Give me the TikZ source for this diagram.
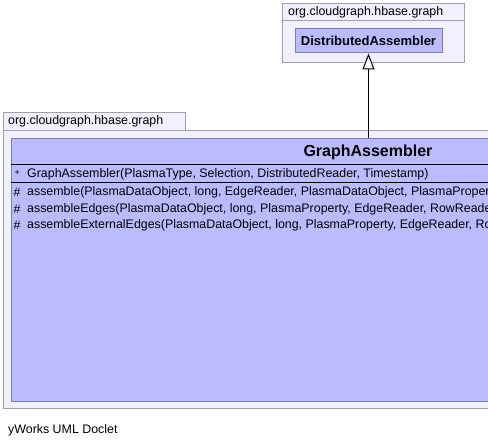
\documentclass[tikz,border=0pt]{standalone}
\usepackage{fontspec}
\setmainfont{Liberation Sans}
\usetikzlibrary{arrows.meta, positioning}
\definecolor{pkgfill}{RGB}{240,240,255}
\definecolor{pkgline}{RGB}{160,160,176}
\definecolor{clsfill}{RGB}{187,187,255}
\definecolor{clsline}{RGB}{128,128,176}

\begin{document}
\begin{tikzpicture}[
    x=1pt, y=-1pt,
    pkgbox/.style={
        rectangle, draw=pkgline, fill=pkgfill,
        line width=1pt, inner sep=0pt, anchor=north west
    },
    classbox/.style={
        rectangle, draw=clsline, fill=clsfill,
        line width=1pt, inner sep=0pt
    },
    label/.style={
        anchor=west, inner sep=0pt,
        font=\fontsize{12.4pt}{14pt}\selectfont
    },
    classname/.style={
        inner sep=0pt, font=\bfseries\fontsize{16pt}{18pt}\selectfont
    },
    separator/.style={line width=1pt, black},
    inherit/.style={-{Triangle[length=16pt, width=12pt, fill=white]}, line width=1pt, black}
]
\useasboundingbox (0,0) rectangle (488,446);
\clip (0,0) rectangle (488,446);

% package of the parent class
\node[pkgbox, minimum width=182pt, minimum height=17pt] (toptab) at (282,3) {};
\node[pkgbox, minimum width=182pt, minimum height=42pt] (topbody) at (282,20) {};
\node[label] (toptitle) at (288,12) {org.cloudgraph.hbase.graph};
\node[classbox, minimum width=147pt, minimum height=24pt,
      font=\bfseries\fontsize{13pt}{15pt}\selectfont] (distcls) at (368.5,41) {DistributedAssembler};

% package of the class itself
\node[pkgbox, minimum width=182pt, minimum height=18pt] (bottab) at (3,112) {};
\node[pkgbox, minimum width=720pt, minimum height=278pt] (botbody) at (3,130) {};
\node[label] (bottitle) at (8,121) {org.cloudgraph.hbase.graph};
\node[classbox, anchor=north west, minimum width=716pt, minimum height=263pt] (graphcls) at (10.5,138) {};
\node[classname] (graphname) at (368,152) {GraphAssembler};
\draw[separator] (10.5,165) -- (727,165);
\draw[separator] (10.5,183) -- (727,183);

% members
\node[label, font=\fontsize{9pt}{10pt}\selectfont] (ctorvis) at (14.5,172.5) {+};
\node[label] (ctor) at (27,174.5) {GraphAssembler(PlasmaType, Selection, DistributedReader, Timestamp)};
\foreach \name/\y/\txt in {
    assemble/192.5/{assemble(PlasmaDataObject, long, EdgeReader, PlasmaDataObject, PlasmaProperty},
    edges/209/{assembleEdges(PlasmaDataObject, long, PlasmaProperty, EdgeReader, RowReader},
    extedges/225.5/{assembleExternalEdges(PlasmaDataObject, long, PlasmaProperty, EdgeReader, RowReader}} {
    \node[label] (\name vis) at (13.5,\y) {\#};
    \node[label] (\name) at (27,\y) {\txt};
}

% generalization
\draw[inherit] (distcls.south |- graphcls.north) -- (distcls.south);

\node[label] (footer) at (8,430) {yWorks UML Doclet};
\end{tikzpicture}
\end{document}
